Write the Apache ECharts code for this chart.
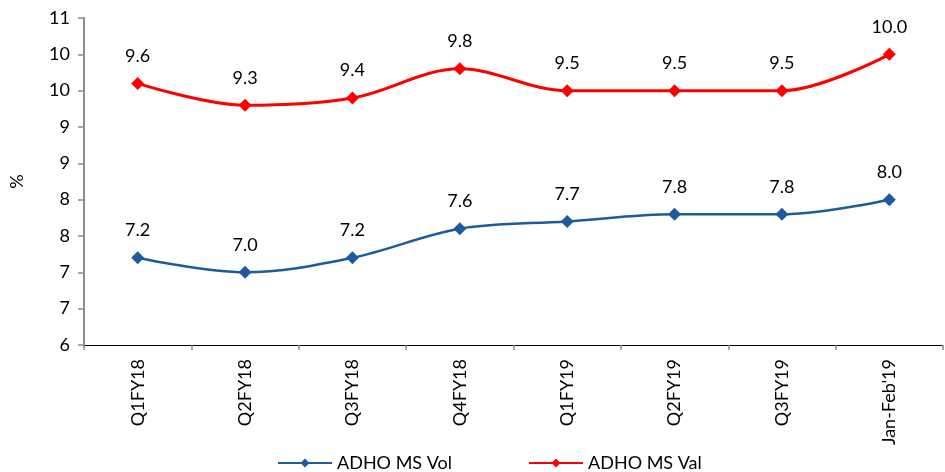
<!DOCTYPE html>
<html>
<head>
<meta charset="utf-8">
<script src="https://cdn.jsdelivr.net/npm/echarts@6/dist/echarts.min.js"></script>
<style>
  html, body { margin: 0; padding: 0; background: #fff; }
  #chart { width: 945px; height: 472px; }
</style>
</head>
<body>
<div id="chart"></div>
<script>
// Periods on the category axis
const periods = ['Q1FY18', 'Q2FY18', 'Q3FY18', 'Q4FY18', 'Q1FY19', 'Q2FY19', 'Q3FY19', "Jan-Feb'19"];
// Market share, %
const msVol = [7.2, 7.0, 7.2, 7.6, 7.7, 7.8, 7.8, 8.0];
const msVal = [9.6, 9.3, 9.4, 9.8, 9.5, 9.5, 9.5, 10.0];
// Value axis range
const yMin = 6, yMax = 10.5, yStep = 0.5;

const FONT = 'Lato';
const FS = 18;
const BLUE = '#1F5A9E';
const RED = '#FF0000';

function lineSeries(name, data, color, width) {
  return {
    name: name,
    type: 'line',
    data: data,
    smooth: 0.35,
    symbol: 'diamond',
    symbolSize: 13,
    itemStyle: { color: color },
    lineStyle: { color: color, width: width },
    label: {
      show: true,
      position: 'top',
      distance: 12,
      color: '#000',
      fontFamily: FONT,
      fontSize: FS,
      formatter: p => p.value.toFixed(1)
    }
  };
}

const chart = echarts.init(document.getElementById('chart'));
chart.setOption({
  animation: false,
  textStyle: { fontFamily: FONT },
  grid: { left: 82, right: 2, top: 18, bottom: 127, containLabel: false },
  legend: {
    bottom: -5,
    left: 272,
    itemWidth: 54,
    itemHeight: 11,
    itemGap: 76,
    textStyle: { fontFamily: FONT, fontSize: FS, color: '#000' },
    data: ['ADHO MS Vol', 'ADHO MS Val']
  },
  xAxis: {
    type: 'category',
    data: periods,
    boundaryGap: true,
    axisLine: { lineStyle: { color: '#000', width: 1 } },
    axisTick: { show: true, length: 5, lineStyle: { color: '#8c8c8c', width: 1.5 } },
    axisLabel: {
      rotate: 90,
      margin: 14,
      color: '#000',
      fontFamily: FONT,
      fontSize: FS
    }
  },
  yAxis: {
    type: 'value',
    min: yMin,
    max: yMax,
    interval: yStep,
    name: '%',
    nameLocation: 'middle',
    nameRotate: 90,
    nameGap: 58,
    nameTextStyle: { color: '#000', fontFamily: FONT, fontSize: FS },
    splitLine: { show: false },
    axisLine: { show: true, lineStyle: { color: '#8c8c8c', width: 2 } },
    axisTick: { show: true, length: 6, lineStyle: { color: '#8c8c8c', width: 1.5 } },
    axisLabel: {
      margin: 14,
      color: '#000',
      fontFamily: FONT,
      fontSize: FS,
      formatter: v => String(Math.round(v))
    }
  },
  series: [
    lineSeries('ADHO MS Vol', msVol, BLUE, 2.5),
    lineSeries('ADHO MS Val', msVal, RED, 3)
  ]
});
</script>
</body>
</html>
